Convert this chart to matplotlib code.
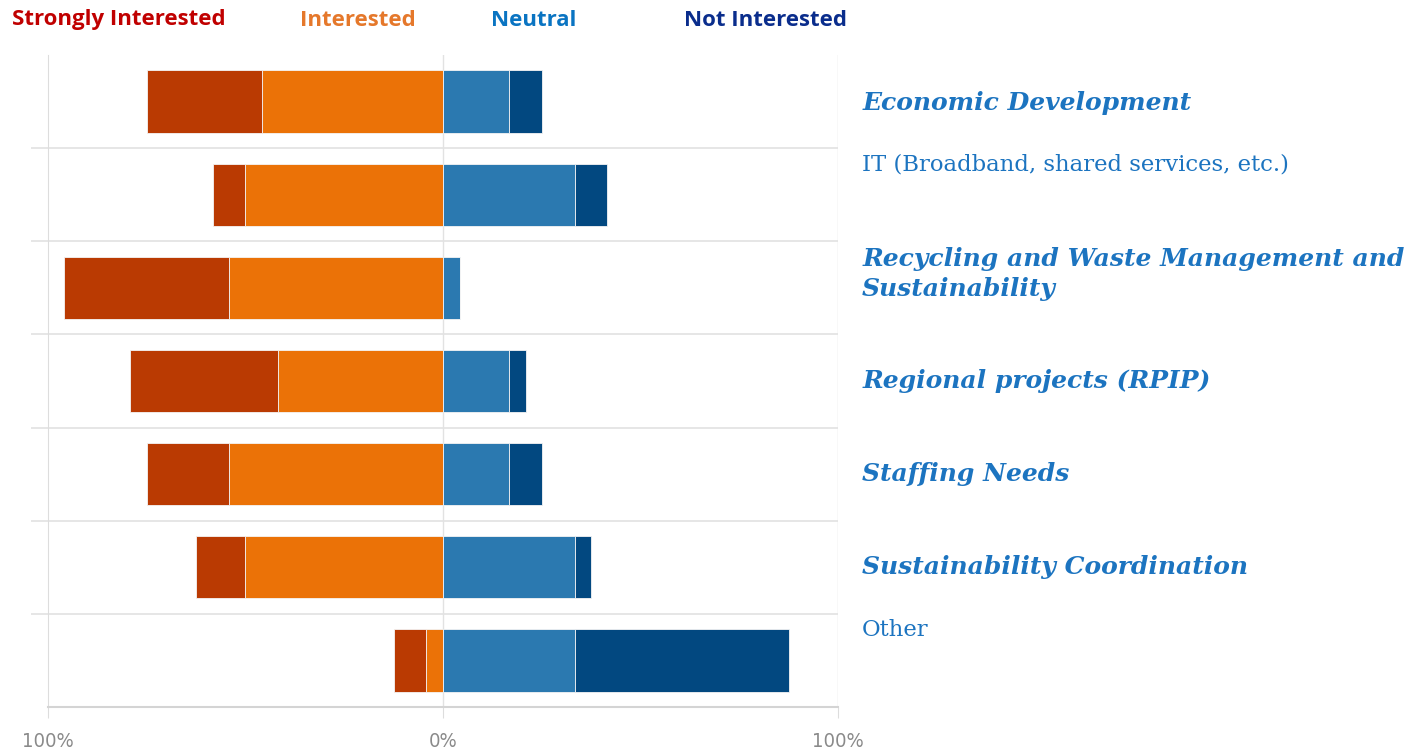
import matplotlib
matplotlib.use("Agg")
import matplotlib.pyplot as plt
import numpy as np

# survey topics, top to bottom
topics = [
    "Economic Development",
    "IT (Broadband, shared services, etc.)",
    "Recycling and Waste Management and\nSustainability",
    "Regional projects (RPIP)",
    "Staffing Needs",
    "Sustainability Coordination",
    "Other",
]
emphasis = [True, False, True, True, True, True, False]

# percentage of respondents per answer
strongly = [29.2, 8.3, 41.7, 37.5, 20.8, 12.5, 8.3]
interested = [45.8, 50.0, 54.2, 41.7, 54.2, 50.0, 4.2]
neutral = [16.7, 33.3, 4.2, 16.7, 16.7, 33.3, 33.3]
not_interested = [8.3, 8.3, 0.0, 4.2, 8.3, 4.2, 54.2]

series_names = ["Strongly Interested", "Interested", "Neutral", "Not Interested"]
bar_colors = ["#BA3A02", "#EB7207", "#2B79B0", "#024880"]
legend_colors = ["#C00000", "#E5782B", "#0A74C2", "#0A2D8C"]
label_color = "#1C74C0"

fig = plt.figure(figsize=(14.23, 7.54), dpi=100)
ax = fig.add_axes([48 / 1423, 1 - 707 / 754, 790 / 1423, 652 / 754])

y = np.arange(len(topics))
s = np.array(strongly)
i = np.array(interested)
n = np.array(neutral)
ni = np.array(not_interested)
h = 0.67
kw = dict(height=h, edgecolor="#f4f4f4", linewidth=0.6, zorder=3)
ax.barh(y, -i, left=0, color=bar_colors[1], **kw)
ax.barh(y, -s, left=-i, color=bar_colors[0], **kw)
ax.barh(y, n, left=0, color=bar_colors[2], **kw)
ax.barh(y, ni, left=n, color=bar_colors[3], **kw)

ax.set_xlim(-100, 100)
ax.set_ylim(len(topics) - 0.5, -0.5)

for sp in ["top", "right"]:
    ax.spines[sp].set_visible(False)
ax.spines["left"].set_color("#dddddd")
ax.spines["bottom"].set_color("#d4d4d4")
ax.spines["bottom"].set_linewidth(1.5)
ax.axvline(0, color="#e2e2e2", lw=1, zorder=1)
ax.axvline(100, color="#dddddd", lw=1, zorder=1)
for b in np.arange(0.5, len(topics) - 1, 1):
    ax.axhline(b, color="#e2e2e2", lw=1.2, zorder=1)

ax.set_yticks(np.arange(0.5, len(topics) - 1, 1))
ax.set_yticklabels([])
ax.tick_params(axis="y", length=12, color="#e2e2e2", width=1.2)
ax.set_xticks([-100, 0, 100])
ax.set_xticklabels(["100%", "0%", "100%"])
ax.tick_params(axis="x", length=8, color="#dddddd", colors="#8a8a8a",
               labelsize=14.5, pad=10)
for lbl in ax.get_xticklabels():
    lbl.set_fontstretch("condensed")

# labels to the right of the plot
offsets = [0.02, -0.32, -0.15, 0.0, 0.0, 0.0, -0.33]
for k, (t, bold) in enumerate(zip(topics, emphasis)):
    ax.text(106.1, k + offsets[k], t, ha="left", va="center", clip_on=False,
            color=label_color, fontsize=18 if bold else 16.4,
            family="DejaVu Serif",
            fontweight="bold" if bold else "normal",
            style="italic" if bold else "normal", linespacing=1.3)

legend_x = [12, 300, 491, 684]
for name, c, lx in zip(series_names, legend_colors, legend_x):
    fig.text(lx / 1423, 1 - 20 / 754, name, color=c, fontsize=16,
             fontweight="bold", family="Open Sans", va="center", ha="left")

fig.savefig("out.png", dpi=100)
